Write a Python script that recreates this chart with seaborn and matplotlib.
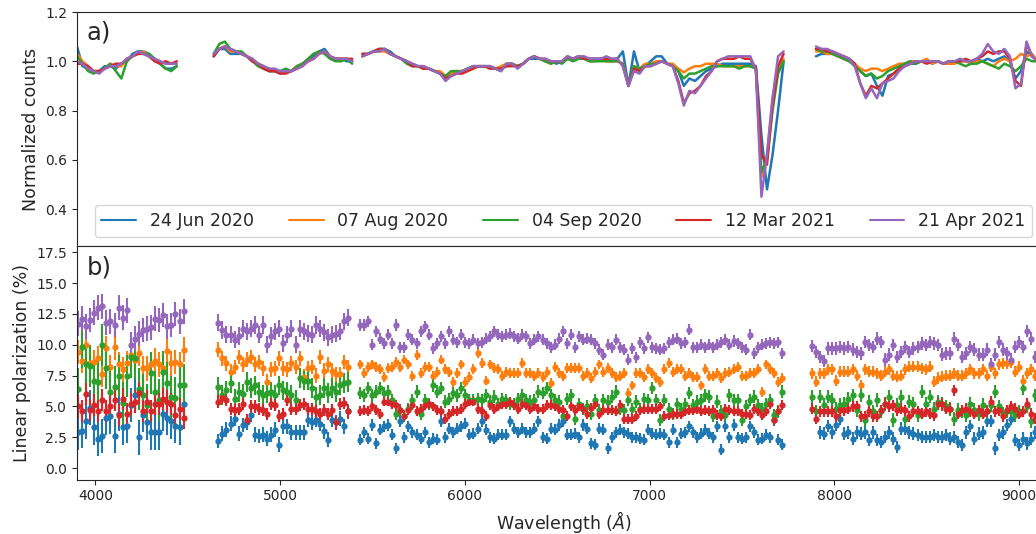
import numpy as np
import pandas as pd
import matplotlib
matplotlib.use("Agg")
import matplotlib.pyplot as plt
import seaborn as sns

# observation dates (legend order)
dates = ["24 Jun 2020", "07 Aug 2020", "04 Sep 2020", "12 Mar 2021", "21 Apr 2021"]

# ---- panel a: normalized spectra, four chunks with gaps between them
spec_wl = np.concatenate([np.arange(3900, 4441, 30), np.arange(4640, 5391, 30),
                          np.arange(5445, 7726, 30), np.arange(7900, 9101, 30)])
spec_chunk = np.repeat([0, 1, 2, 3], [19, 26, 77, 41])

cnt_jun20 = (
    [1.06, 0.98, 0.97, 0.96, 0.96, 0.98, 0.98, 0.97, 0.99, 1.00, 1.03, 1.04, 1.04, 1.03, 1.01, 0.99, 0.97, 0.97, 0.98]
    + [1.02, 1.05, 1.05, 1.03, 1.03, 1.03, 1.02, 1.00, 0.99, 0.98, 0.96, 0.96, 0.95, 0.96, 0.96, 0.97, 0.99, 1.00,
       1.02, 1.04, 1.05, 1.02, 1.01, 1.01, 1.00, 1.00]
    + [1.03, 1.03, 1.04, 1.04, 1.05, 1.04, 1.02, 1.01, 1.00, 0.99, 0.98, 0.98, 0.97, 0.96, 0.95, 0.93, 0.95, 0.95,
       0.96, 0.97, 0.98, 0.98, 0.98, 0.98, 0.97, 0.97, 0.98, 0.99, 0.98, 0.99, 1.01, 1.01, 1.01, 1.00, 1.00, 0.99,
       1.00, 1.01, 1.01, 1.02, 1.01, 1.01, 1.01, 1.01, 1.01, 1.00, 1.01, 1.04, 0.90, 1.04, 0.96, 0.98, 1.00, 1.02,
       1.02, 0.99, 0.98, 0.96, 0.90, 0.93, 0.92, 0.94, 0.96, 0.97, 0.98, 0.99, 0.99, 0.99, 0.99, 0.99, 0.99, 0.98,
       0.70, 0.48, 0.62, 0.80, 1.00]
    + [1.02, 1.03, 1.03, 1.03, 1.02, 1.02, 1.01, 0.99, 0.96, 0.94, 0.95, 0.90, 0.86, 0.94, 0.95, 0.97, 0.98, 0.99,
       0.99, 1.00, 1.00, 0.99, 1.00, 0.99, 1.00, 1.00, 1.00, 1.00, 1.00, 1.01, 1.00, 1.01, 1.00, 1.01, 1.02, 1.00,
       0.93, 0.96, 1.04, 1.02, 1.00]
)
cnt_aug20 = (
    [1.03, 1.00, 0.98, 0.96, 0.96, 0.97, 0.99, 0.98, 0.98, 1.01, 1.02, 1.03, 1.04, 1.02, 1.01, 1.00, 0.99, 0.99, 0.99]
    + [1.03, 1.05, 1.06, 1.04, 1.04, 1.03, 1.02, 1.01, 0.99, 0.98, 0.97, 0.96, 0.96, 0.96, 0.96, 0.98, 0.99, 1.00,
       1.01, 1.03, 1.04, 1.02, 1.01, 1.01, 1.01, 1.00]
    + [1.02, 1.03, 1.04, 1.04, 1.04, 1.03, 1.02, 1.01, 1.00, 0.99, 0.98, 0.98, 0.97, 0.96, 0.96, 0.94, 0.95, 0.96,
       0.96, 0.97, 0.98, 0.98, 0.98, 0.98, 0.97, 0.98, 0.99, 0.99, 0.98, 0.99, 1.01, 1.02, 1.01, 1.00, 0.99, 1.00,
       1.00, 1.01, 1.01, 1.02, 1.01, 1.00, 1.00, 1.01, 1.00, 1.00, 1.00, 0.99, 0.90, 0.98, 0.97, 0.99, 0.99, 1.00,
       1.00, 0.99, 0.99, 0.97, 0.955, 0.97, 0.98, 0.98, 0.99, 0.99, 0.99, 0.98, 0.98, 0.98, 0.98, 0.98, 0.98, 0.97,
       0.53, 0.62, 0.85, 0.97, 1.01]
    + [1.04, 1.04, 1.03, 1.03, 1.02, 1.01, 1.00, 0.99, 0.97, 0.96, 0.97, 0.97, 0.96, 0.97, 0.98, 0.99, 0.99, 1.00,
       1.00, 1.00, 1.01, 0.99, 1.00, 0.99, 0.99, 0.99, 1.00, 1.00, 0.99, 1.00, 1.00, 0.99, 0.98, 1.00, 1.01, 1.00,
       1.01, 1.03, 1.02, 1.03, 1.00]
)
cnt_sep20 = (
    [1.02, 0.99, 0.96, 0.95, 0.96, 0.97, 0.99, 0.96, 0.93, 1.00, 1.02, 1.04, 1.03, 1.03, 1.01, 0.99, 0.97, 0.96, 0.98]
    + [1.03, 1.07, 1.08, 1.05, 1.04, 1.04, 1.02, 1.00, 0.98, 0.97, 0.96, 0.96, 0.96, 0.97, 0.96, 0.98, 0.99, 1.01,
       1.03, 1.04, 1.03, 1.01, 1.00, 1.00, 1.01, 0.99]
    + [1.02, 1.03, 1.04, 1.05, 1.05, 1.03, 1.02, 1.01, 0.99, 0.98, 0.98, 0.97, 0.97, 0.96, 0.95, 0.94, 0.96, 0.96,
       0.96, 0.97, 0.98, 0.98, 0.98, 0.98, 0.97, 0.96, 0.99, 0.99, 0.98, 0.99, 1.01, 1.02, 1.01, 1.00, 0.99, 1.00,
       0.99, 1.01, 1.00, 1.01, 1.01, 1.00, 1.00, 1.00, 1.00, 1.00, 1.00, 0.99, 0.90, 0.98, 0.97, 0.98, 0.99, 0.99,
       1.00, 0.99, 0.98, 0.96, 0.93, 0.95, 0.95, 0.96, 0.97, 0.98, 0.98, 0.98, 0.98, 0.98, 0.97, 0.98, 0.98, 0.97,
       0.55, 0.60, 0.80, 0.95, 1.00]
    + [1.05, 1.04, 1.04, 1.03, 1.02, 1.01, 1.00, 0.98, 0.96, 0.94, 0.95, 0.93, 0.94, 0.96, 0.97, 0.98, 0.99, 1.00,
       0.99, 1.00, 1.00, 1.00, 1.00, 0.99, 1.00, 1.00, 0.99, 0.98, 0.99, 0.99, 1.00, 0.99, 0.98, 0.97, 0.99, 0.98,
       0.96, 0.98, 1.01, 1.00, 1.00]
)
cnt_mar21 = (
    [0.99, 0.99, 0.98, 0.96, 0.96, 0.97, 0.98, 0.99, 0.99, 1.01, 1.02, 1.03, 1.03, 1.02, 1.00, 0.99, 1.00, 0.99, 1.00]
    + [1.02, 1.05, 1.06, 1.05, 1.04, 1.03, 1.02, 1.00, 0.99, 0.97, 0.96, 0.96, 0.95, 0.95, 0.96, 0.97, 0.98, 1.00,
       1.01, 1.03, 1.04, 1.02, 1.01, 1.01, 1.01, 1.01]
    + [1.03, 1.03, 1.04, 1.05, 1.05, 1.03, 1.02, 1.01, 1.00, 0.98, 0.98, 0.97, 0.97, 0.96, 0.95, 0.93, 0.94, 0.95,
       0.95, 0.96, 0.97, 0.98, 0.98, 0.97, 0.97, 0.97, 0.98, 0.98, 0.98, 0.99, 1.01, 1.02, 1.01, 1.01, 1.00, 1.00,
       1.00, 1.02, 1.01, 1.02, 1.01, 1.01, 1.01, 1.01, 1.01, 1.01, 1.01, 0.98, 0.90, 0.97, 0.96, 0.98, 0.98, 0.99,
       1.00, 0.99, 0.98, 0.92, 0.83, 0.87, 0.88, 0.90, 0.94, 0.96, 1.00, 1.01, 1.01, 1.01, 1.02, 1.01, 1.01, 0.97,
       0.62, 0.58, 0.82, 0.98, 1.03]
    + [1.05, 1.05, 1.04, 1.04, 1.03, 1.02, 1.01, 0.99, 0.91, 0.86, 0.90, 0.89, 0.91, 0.93, 0.95, 0.97, 0.98, 0.99,
       1.00, 1.00, 0.99, 1.00, 1.00, 0.99, 1.00, 1.00, 1.00, 1.01, 1.00, 1.01, 1.02, 1.04, 1.03, 1.04, 1.04, 1.01,
       0.92, 0.90, 1.07, 1.02, 1.00]
)
cnt_apr21 = (
    [1.00, 0.99, 0.97, 0.96, 0.95, 0.97, 0.98, 0.98, 0.99, 1.01, 1.02, 1.04, 1.03, 1.02, 1.01, 1.00, 0.99, 0.99, 0.99]
    + [1.03, 1.05, 1.06, 1.05, 1.04, 1.03, 1.02, 1.01, 0.99, 0.98, 0.97, 0.97, 0.96, 0.96, 0.96, 0.97, 0.98, 1.00,
       1.01, 1.03, 1.04, 1.02, 1.01, 1.01, 1.01, 1.00]
    + [1.02, 1.03, 1.04, 1.04, 1.05, 1.03, 1.02, 1.01, 1.00, 0.99, 0.98, 0.98, 0.97, 0.96, 0.95, 0.92, 0.94, 0.95,
       0.96, 0.97, 0.98, 0.98, 0.98, 0.98, 0.97, 0.96, 0.99, 0.99, 0.97, 0.99, 1.01, 1.02, 1.01, 1.01, 1.00, 1.00,
       1.00, 1.02, 1.01, 1.02, 1.02, 1.01, 1.01, 1.01, 1.02, 1.01, 1.01, 0.98, 0.90, 0.96, 0.95, 0.98, 0.98, 0.99,
       1.00, 0.99, 0.98, 0.91, 0.82, 0.88, 0.87, 0.90, 0.93, 0.96, 1.00, 1.01, 1.02, 1.02, 1.02, 1.02, 1.02, 0.96,
       0.45, 0.62, 0.85, 1.02, 1.04]
    + [1.06, 1.05, 1.05, 1.04, 1.03, 1.02, 1.01, 0.98, 0.91, 0.85, 0.89, 0.85, 0.91, 0.92, 0.93, 0.96, 0.98, 0.99,
       1.00, 1.00, 1.00, 1.00, 1.00, 0.99, 1.00, 1.00, 1.01, 1.00, 1.00, 1.01, 1.03, 1.07, 1.04, 1.03, 1.05, 1.02,
       0.89, 0.91, 1.08, 1.02, 1.00]
)

# ---- panel b: binned linear polarization, same four chunks
pol_wl = np.concatenate([np.arange(3905, 4478, 22), np.arange(4665, 5370, 22),
                         np.arange(5430, 7719, 22), np.arange(7878, 9089, 22)])
pol_chunk_len = [27, 33, 105, 56]

pol_jun20 = (
    [2.9, 3.0, 3.8, 4.9, 3.3, 2.4, 2.6, 4.1, 4.2, 2.6, 4.4, 3.3, 3.4, 5.1, 5.9, 2.5, 4.3, 3.7, 2.9, 2.9, 2.9, 4.4,
     4.1, 3.8, 3.4, 3.3, 5.2]
    + [2.2, 2.8, 3.1, 3.6, 4.0, 2.8, 3.5, 3.7, 4.3, 2.7, 2.6, 2.7, 2.4, 2.7, 3.1, 1.9, 3.4, 3.4, 2.9, 2.9, 2.9, 2.9,
       3.9, 3.7, 3.9, 3.6, 3.0, 2.3, 3.9, 3.7, 4.0, 3.4, 4.6]
    + [2.3, 2.9, 2.4, 3.5, 2.0, 3.1, 3.4, 3.5, 2.7, 1.6, 3.8, 2.5, 3.4, 2.9, 2.7, 2.4, 2.9, 2.1, 2.4, 2.3, 3.8, 2.5,
       3.2, 2.9, 3.2, 3.4, 3.6, 2.7, 2.8, 3.2, 3.8, 3.1, 2.5, 2.4, 2.7, 2.7, 2.7, 3.8, 3.2, 2.9, 3.2, 2.9, 2.9, 3.2,
       3.8, 2.5, 2.4, 3.2, 3.1, 3.5, 3.8, 2.7,
       2.7, 2.8, 2.5, 3.5, 3.2, 2.0, 1.9, 3.2, 3.1, 1.6, 2.5, 2.9, 3.1, 2.9, 2.8, 2.5, 2.5, 2.4, 2.3, 3.1, 2.8, 2.7,
       2.8, 2.7, 2.1, 3.1, 2.1, 2.8, 2.9, 3.4, 2.9, 2.5, 2.8, 3.1, 2.8, 2.5, 3.4, 1.5, 3.4, 2.5, 3.5, 2.5, 2.4, 2.5,
       3.4, 2.9, 2.3, 2.4, 2.7, 2.5, 3.9, 2.3, 1.9]
    + [np.nan, np.nan, 2.9, 2.8, 3.4, 2.9, 3.5, 4.0, 2.8, 2.9, 2.4, 2.9, 2.8, 2.9, 2.3, 2.9, 2.3, 2.1, 2.5, 2.9, 2.4,
       1.7, 3.2, 3.2, 2.9, 2.8, 2.7, 2.5, 2.5, 2.5, 2.7, 2.5, 2.5, 2.7, 2.4, 2.5, 2.1, 1.9, 2.9, 3.4, 2.4, 2.8, 2.9,
       3.8, 3.8, 1.6, 2.7, 2.9, 3.5, 4.0, 2.3, 1.9, 2.4, 2.0, 2.4, 2.9]
)
pol_aug20 = (
    [9.4, 8.7, 10.0, 8.5, 8.6, 8.9, 7.6, 9.7, 8.2, 9.8, 8.4, 8.0, 8.5, 9.2, 8.8, 9.3, 8.1, 8.1, 8.4, 8.7, 8.4, 8.1,
     9.5, 8.5, 8.6, 8.4, 9.6]
    + [9.6, 8.9, 8.5, 7.8, 8.2, 9.0, 8.4, 8.8, 9.0, 8.4, 8.6, 8.1, 7.0, 8.0, 8.1, 8.9, 8.1, 8.0, 8.5, 8.2, 8.9, 7.4,
       8.1, 8.2, 7.5, 9.0, 7.9, 8.4, 7.9, 7.6, 7.6, 8.6, 8.2]
    + [8.4, 7.7, 8.2, 8.4, 8.2, 8.0, 7.4, 8.1, 8.2, 8.6, 8.2, 8.8, 8.4, 7.5, 9.2, 7.7, 8.2, 8.2, 7.5, 7.8, 8.8, 8.0,
       7.8, 7.0, 7.7, 8.4, 7.0, 7.4, 8.0, 9.3, 8.5, 7.1, 8.4, 8.1, 8.0, 7.5, 7.8, 7.7, 7.7, 7.7, 8.5, 7.7, 7.7, 7.5,
       7.7, 7.4, 7.8, 6.9, 8.2, 7.7, 7.5, 8.1,
       8.1, 8.1, 8.1, 7.5, 7.7, 7.3, 7.8, 8.4, 7.8, 8.1, 7.7, 7.4, 7.5, 7.7, 6.1, 6.7, 7.7, 7.7, 7.4, 8.0, 7.7, 7.3,
       7.0, 8.0, 8.5, 7.8, 8.0, 8.0, 7.5, 7.7, 7.4, 7.4, 6.7, 8.0, 7.5, 7.5, 7.7, 7.3, 7.7, 7.8, 8.0, 8.2, 7.5, 7.5,
       7.7, 7.7, 8.0, 6.2, 8.4, 8.0, 7.7, 7.0, 7.3]
    + [7.7, 7.0, 7.7, 7.7, 8.0, 8.0, 7.1, 7.8, 7.8, 7.8, 8.0, 7.5, 6.7, 8.0, 7.8, 7.8, 7.7, 7.5, 7.8, 8.0, 7.5, 7.4,
       7.5, 8.0, 8.2, 8.2, 8.2, 8.1, 8.0, 8.2, 7.0, 7.3, 7.4, 7.5, 7.5, 7.7, 7.5, 7.5, 7.7, 8.0, 7.7, 7.7, 8.0, 7.5,
       8.2, 7.7, 8.4, 8.5, 8.5, 8.6, 7.8, 8.2, 7.1, 7.7, 8.0, 7.5]
)
pol_sep20 = (
    [6.4, 9.8, 8.4, 8.3, 7.1, 7.0, 10.0, 8.1, 6.2, 6.6, 7.5, 5.3, 7.5, 9.0, 8.9, 6.4, 5.9, 5.1, 7.7, 6.2, 5.5, 7.8,
     6.9, 5.8, 5.7, 6.7, 6.7]
    + [6.6, 5.9, 6.3, 6.9, 5.6, 6.2, 6.0, 7.0, 6.5, 6.7, 6.2, 5.9, 6.1, 6.2, 5.9, 6.7, 6.3, 6.2, 5.9, 5.5, 7.3, 7.1,
       7.1, 6.5, 5.8, 5.9, 6.5, 6.1, 6.5, 6.2, 6.7, 6.9, 7.0]
    + [6.1, 5.9, 6.5, 5.9, 6.2, 6.5, 6.1, 6.2, 5.5, 4.4, 4.7, 4.2, 4.8, 5.5, 6.2, 4.4, 5.5, 5.2, 6.7, 6.2, 6.5, 5.4,
       5.6, 6.1, 5.9, 6.5, 5.9, 5.5, 5.5, 5.6, 5.5, 5.9, 5.4, 5.8, 5.2, 5.6, 5.5, 5.2, 5.2, 5.6, 5.9, 5.5, 5.4, 5.5,
       6.2, 6.1, 6.5, 5.9, 5.5, 5.4, 4.2, 5.6,
       5.9, 4.0, 5.2, 4.8, 5.0, 4.4, 5.5, 4.7, 5.5, 5.4, 5.8, 6.2, 4.8, 4.7, 5.5, 4.8, 5.4, 4.8, 5.6, 5.5, 6.5, 5.5,
       3.9, 5.5, 4.8, 4.4, 5.2, 4.8, 5.2, 6.1, 5.1, 5.4, 5.5, 5.9, 5.8, 4.2, 5.4, 4.6, 4.3, 5.9, 5.5, 5.5, 3.9, 5.0,
       5.5, 5.8, 5.1, 4.8, 5.2, 5.5, 4.3, 4.6, 6.2]
    + [5.8, 4.6, 5.8, 5.1, 5.8, 5.5, 4.8, 5.1, 5.2, 5.6, 5.9, 4.7, 5.9, 3.9, 5.4, 4.6, 5.5, 4.6, 5.2, 5.8, 3.9, 5.1,
       5.8, 4.0, 5.4, 5.2, 4.3, 6.2, 5.2, 5.8, 4.8, 5.4, 5.2, 5.0, 4.8, 4.0, 4.7, 4.6, 4.3, 5.2, 4.7, 4.4, 5.1, 4.6,
       5.1, 6.2, 5.0, 4.4, 4.6, 4.6, 4.3, 4.6, 6.5, 5.0, 3.8, 5.9]
)
pol_mar21 = (
    [5.0, 4.6, 6.0, 4.7, 5.1, 4.6, 5.5, 4.6, 5.0, 5.5, 4.3, 5.6, 4.4, 5.2, 5.4, 6.1, 4.6, 5.4, 4.6, 5.2, 5.2, 5.6,
     5.4, 5.2, 4.3, 4.8, 4.1]
    + [5.4, 5.7, 5.5, 4.8, 4.7, 4.8, 5.2, 3.9, 5.0, 5.0, 4.8, 4.7, 4.4, 5.2, 5.1, 4.2, 4.4, 5.5, 4.8, 4.8, 5.1, 5.2,
       4.8, 4.8, 4.6, 4.4, 4.7, 4.4, 4.7, 3.7, 5.2, 5.3, 4.6]
    + [4.6, 4.7, 4.6, 5.0, 4.7, 4.4, 5.4, 5.4, 5.2, 5.1, 4.7, 4.2, 4.7, 5.1, 4.6, 4.8, 5.1, 5.2, 5.0, 4.7, 4.6, 4.0,
       4.4, 4.6, 4.6, 4.8, 5.2, 5.4, 5.4, 4.8, 4.6, 4.2, 5.1, 4.8, 5.0, 5.2, 5.2, 5.4, 5.1, 4.8, 5.2, 5.1, 4.8, 5.0,
       4.8, 4.8, 5.1, 5.1, 5.0, 4.8, 4.7, 4.2,
       5.0, 4.7, 5.0, 4.8, 4.4, 4.9, 5.2, 4.4, 4.7, 4.7, 4.7, 4.6, 5.1, 4.0, 4.0, 4.0, 4.2, 4.7, 4.8, 4.8, 4.8, 4.8,
       5.0, 4.2, 4.3, 4.4, 4.4, 4.4, 4.6, 4.7, 4.7, 4.8, 4.6, 4.7, 4.6, 4.7, 4.3, 4.2, 4.8, 4.7, 4.6, 4.6, 4.4, 4.4,
       4.3, 4.8, 4.6, 4.3, 4.6, 5.2, 3.9, 4.6, 5.1]
    + [4.8, 4.0, 4.6, 4.6, 4.6, 4.6, 4.2, 4.7, 4.7, 4.8, 5.0, 5.0, 4.2, 4.2, 4.6, 4.2, 4.2, 4.7, 5.2, 5.0, 5.1, 4.7,
       4.8, 4.7, 4.2, 4.6, 4.6, 4.4, 4.6, 4.4, 4.3, 5.2, 5.2, 4.8, 4.8, 6.3, 4.4, 4.7, 4.8, 4.6, 4.4, 4.7, 4.4, 4.6,
       5.4, 4.6, 4.7, 4.2, 4.7, 5.0, 4.8, 4.4, 4.6, 5.2, 4.4, 4.0]
)
pol_apr21 = (
    [11.7, 12.1, 11.5, 12.0, 12.6, 13.0, 13.1, 11.8, 11.9, 11.6, 13.0, 12.2, 12.8, 10.0, 10.5, 10.9, 11.2, 11.3,
     11.4, 12.1, 12.0, 12.4, 11.5, 11.6, 12.5, 11.9, 12.7]
    + [11.8, 11.2, 10.8, 10.8, 10.4, 10.7, 11.3, 11.1, 11.3, 11.6, 10.8, 11.6, 10.0, 10.7, 11.1, 11.3, 10.1, 10.8,
       11.3, 10.0, 11.3, 11.1, 10.9, 10.8, 11.6, 11.3, 11.0, 10.6, 10.8, 10.9, 11.1, 11.9, 12.2]
    + [11.6, 11.6, 11.9, 10.0, 11.1, 10.5, 10.1, 10.8, 10.1, 11.6, 9.8, 9.8, 10.8, 10.4, 10.1, 11.1, 11.5, 10.8,
       9.7, 10.1, 10.7, 10.1, 11.1, 10.4, 10.2, 10.8, 10.2, 10.1, 10.4, 10.1, 10.2, 10.5, 10.7, 11.1, 10.8, 10.7,
       10.8, 10.9, 10.7, 10.5, 10.8, 10.7, 10.1, 10.4, 10.7, 10.4, 10.1, 9.8, 10.0, 10.5, 11.1, 10.1,
       10.8, 9.8, 10.7, 10.4, 10.5, 10.4, 10.1, 9.6, 9.2, 10.0, 9.8, 10.4, 9.8, 9.6, 8.8, 9.7, 9.0, 10.2, 9.7, 10.6,
       9.8, 9.7, 9.6, 9.7, 10.2, 10.4, 10.5, 10.1, 10.2, 11.2, 9.8, 9.8, 10.0, 9.8, 10.0, 9.8, 10.0, 10.2, 10.4,
       10.0, 10.3, 10.1, 9.8, 9.6, 10.8, 9.3, 9.8, 10.0, 10.1, 10.2, 10.1, 10.2, 9.3]
    + [9.9, 9.4, 9.0, 8.7, 9.7, 9.7, 9.7, 9.8, 9.7, 9.8, 9.6, 9.4, 9.3, 10.2, 10.0, 9.8, 10.5, 10.2, 8.8, 9.2,
       10.0, 9.0, 9.4, 9.8, 9.4, 9.7, 9.8, 10.1, 10.0, 10.2, 10.1, 10.0, 9.2, 9.3, 9.3, 10.5, 10.0, 9.0, 9.3, 9.8,
       9.6, 9.2, 9.2, 9.6, 8.4, 9.2, 10.2, 9.6, 9.3, 8.8, 9.8, 10.2, 9.8, 11.1, 10.5, 9.0]
)

# typical 1-sigma error per chunk (blue end is noisier)
err_jun20 = [1.4, 0.6, 0.45, 0.5]
err_aug20 = [1.0, 0.6, 0.4, 0.45]
err_sep20 = [1.7, 0.8, 0.5, 0.55]
err_mar21 = [0.9, 0.5, 0.4, 0.45]
err_apr21 = [1.0, 0.7, 0.45, 0.5]

counts = [cnt_jun20, cnt_aug20, cnt_sep20, cnt_mar21, cnt_apr21]
pols = [pol_jun20, pol_aug20, pol_sep20, pol_mar21, pol_apr21]
errs = [err_jun20, err_aug20, err_sep20, err_mar21, err_apr21]

sns.set_style("ticks")
plt.rcParams["font.family"] = ["DejaVu Sans"]
colors = sns.color_palette("tab10", 5)

# long table for seaborn
spec_df = pd.concat([
    pd.DataFrame({"wl": spec_wl, "counts": c, "date": d, "chunk": spec_chunk})
    for d, c in zip(dates, counts)
], ignore_index=True)

fig = plt.figure(figsize=(10.36, 5.34), dpi=100)
ax1 = fig.add_axes([77 / 1036, 1 - 246 / 534, 973 / 1036, 234 / 534])
ax2 = fig.add_axes([77 / 1036, 1 - 479.5 / 534, 973 / 1036, 233.5 / 534], sharex=ax1)

# panel a
sns.lineplot(data=spec_df, x="wl", y="counts", hue="date", hue_order=dates, units="chunk",
             estimator=None, palette=dict(zip(dates, colors)), linewidth=1.8, ax=ax1)
handles, labels = ax1.get_legend_handles_labels()
for h in handles:
    h.set_linewidth(1.5)
ax1.legend(handles, labels, loc="lower center", ncol=5, fontsize=12.5, frameon=True,
           columnspacing=2.0, handlelength=2.0)
ax1.set_ylim(0.25, 1.2)
ax1.set_yticks([0.4, 0.6, 0.8, 1.0, 1.2])
ax1.set_ylabel("Normalized counts", fontsize=12.5)
ax1.set_xlabel("")
ax1.tick_params(labelbottom=False)
ax1.text(0.01, 0.882, "a)", transform=ax1.transAxes, fontsize=17.5, va="baseline")

# panel b
for d, p, e, c in zip(dates, pols, errs, colors):
    yerr = np.repeat(e, pol_chunk_len)
    ax2.errorbar(pol_wl, p, yerr=yerr, fmt="o", color=c, ms=3.5, elinewidth=1.5, capsize=0, label=d)
ax2.set_ylim(-0.92, 18.0)
ax2.set_yticks(np.arange(0, 17.6, 2.5))
ax2.set_xlim(3900, 9167)
ax2.set_xticks([4000, 5000, 6000, 7000, 8000, 9000])
ax2.set_ylabel("Linear polarization (%)", fontsize=12.5)
ax2.set_xlabel(r"Wavelength ($\AA$)", fontsize=12.5)
ax2.text(0.01, 0.876, "b)", transform=ax2.transAxes, fontsize=17.5, va="baseline")

for ax in (ax1, ax2):
    ax.tick_params(labelsize=10, length=3.5, width=0.8)
    for s in ax.spines.values():
        s.set_linewidth(0.8)

fig.savefig("out.png", dpi=100)
